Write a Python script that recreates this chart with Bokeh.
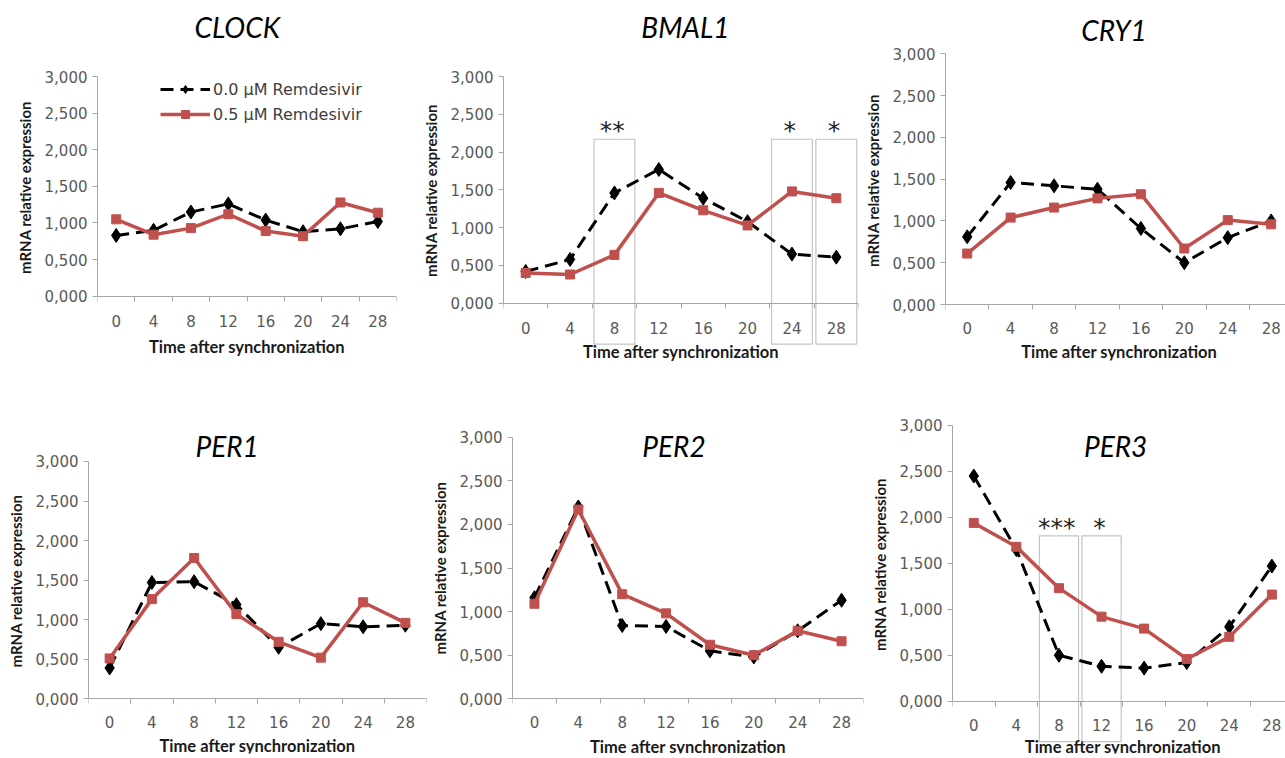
from bokeh.plotting import figure
from bokeh.models import Range1d, FixedTicker, Label, Legend, LegendItem, ColumnDataSource
from bokeh.layouts import row, column
from bokeh.core.properties import value
from bokeh.embed import file_html
from bokeh.resources import INLINE

# ---------------- data ----------------
times = ["0", "4", "8", "12", "16", "20", "24", "28"]
y_ticks = [0.0, 0.5, 1.0, 1.5, 2.0, 2.5, 3.0]
y_tick_labels = ["0,000", "0,500", "1,000", "1,500", "2,000", "2,500", "3,000"]
series_names = ["0.0 µM Remdesivir", "0.5 µM Remdesivir"]
x_title = "Time after synchronization"
y_title = "mRNA relative expression"

clock_ctrl = [0.83, 0.90, 1.15, 1.26, 1.04, 0.88, 0.92, 1.02]
clock_rdv = [1.05, 0.84, 0.93, 1.12, 0.89, 0.82, 1.28, 1.14]
bmal1_ctrl = [0.42, 0.58, 1.46, 1.77, 1.39, 1.08, 0.65, 0.61]
bmal1_rdv = [0.40, 0.38, 0.64, 1.46, 1.23, 1.03, 1.48, 1.39]
cry1_ctrl = [0.81, 1.46, 1.42, 1.38, 0.91, 0.50, 0.80, 1.00]
cry1_rdv = [0.61, 1.04, 1.16, 1.27, 1.32, 0.67, 1.01, 0.96]
per1_ctrl = [0.39, 1.47, 1.48, 1.19, 0.65, 0.95, 0.91, 0.93]
per1_rdv = [0.51, 1.26, 1.78, 1.07, 0.72, 0.52, 1.22, 0.96]
per2_ctrl = [1.16, 2.20, 0.84, 0.83, 0.55, 0.48, 0.78, 1.13]
per2_rdv = [1.09, 2.17, 1.20, 0.98, 0.62, 0.50, 0.78, 0.66]
per3_ctrl = [2.45, 1.65, 0.50, 0.38, 0.36, 0.42, 0.81, 1.47]
per3_rdv = [1.94, 1.68, 1.23, 0.92, 0.79, 0.46, 0.70, 1.16]

bmal1_sig = [("8", "**"), ("24", "*"), ("28", "*")]
per3_sig = [("8", "***"), ("12", "*")]

AXIS_COL = "#A6A6A6"
TICK_COL = "#595959"
RED = "#C0504D"
TICK_FONT = "DejaVu Sans"
TICK_SIZE = "15px"


def panel(gene, ctrl, rdv, W, H, bl, br, bt, bb, xend, yr, tpos, xlab_y,
          sig=None, box_tb=None, star_y=None, legend_loc=None):
    p = figure(width=W, height=H, x_range=Range1d(0, xend), y_range=Range1d(*yr),
               output_backend="svg", toolbar_location=None,
               min_border_left=bl, min_border_right=br,
               min_border_top=bt, min_border_bottom=bb)
    p.outline_line_color = None
    p.grid.visible = False
    p.background_fill_color = "white"
    p.border_fill_color = "white"

    xs = [i + 0.5 for i in range(len(times))]

    # x axis: drawn at y=0, ticks on the category boundaries
    xa = p.xaxis[0]
    xa.fixed_location = 0
    xa.bounds = (0, len(times))
    xa.ticker = FixedTicker(ticks=[], minor_ticks=list(range(len(times) + 1)))
    xa.major_tick_in = 0
    xa.major_tick_out = 5
    xa.minor_tick_line_color = AXIS_COL
    xa.minor_tick_in = 0
    xa.minor_tick_out = 5
    xa.major_label_standoff = 0
    xa.axis_line_color = AXIS_COL

    # category labels and axis title, placed under the axis
    src = ColumnDataSource(dict(x=xs, y=[xlab_y[0]] * len(xs), t=times))
    p.text(x="x", y="y", text="t", source=src, text_align="center",
           text_baseline="middle", text_font=value(TICK_FONT),
           text_font_size=value(TICK_SIZE), text_color=TICK_COL)
    p.add_layout(Label(x=len(times) / 2, y=xlab_y[1], text=x_title,
                       text_align="center", text_baseline="middle",
                       text_font="Lato", text_font_style="bold",
                       text_font_size="16.5px", text_color="#1a1a1a"))

    # y axis
    ya = p.yaxis[0]
    ya.bounds = (0, 3)
    ya.ticker = FixedTicker(ticks=y_ticks, minor_ticks=[])
    ya.major_label_overrides = {v: s for v, s in zip(y_ticks, y_tick_labels)}
    ya.major_tick_line_color = AXIS_COL
    ya.major_tick_in = 0
    ya.major_tick_out = 5
    ya.axis_line_color = AXIS_COL
    ya.major_label_text_font = TICK_FONT
    ya.major_label_text_font_size = TICK_SIZE
    ya.major_label_text_color = TICK_COL
    ya.major_label_standoff = 5
    ya.axis_label = y_title
    ya.axis_label_text_font = "Lato"
    ya.axis_label_text_font_style = "bold"
    ya.axis_label_text_font_size = "15px"
    ya.axis_label_text_color = "#1a1a1a"
    ya.axis_label_standoff = 8

    # significance boxes and stars
    if sig:
        for cat, stars in sig:
            i = times.index(cat)
            p.quad(left=i + 0.04, right=i + 0.96, top=box_tb[0], bottom=box_tb[1],
                   fill_color=None, line_color="#C4C4C4", line_width=1.2)
            p.add_layout(Label(x=i + 0.45, y=star_y, text=stars,
                               text_align="center", text_baseline="alphabetic",
                               text_font="DejaVu Sans", text_font_size="25px",
                               text_color="#262626"))

    r1 = p.line(xs, ctrl, line_color="black", line_width=3, line_dash="13 7")
    s1 = p.scatter(xs, ctrl, marker="diamond", size=14, color="black")
    r2 = p.line(xs, rdv, line_color=RED, line_width=3.5)
    s2 = p.scatter(xs, rdv, marker="square", size=9, color=RED)

    p.add_layout(Label(x=tpos[0], y=tpos[1], text=gene, text_align="center",
                       text_baseline="middle", text_font="Lato",
                       text_font_style="italic", text_font_size="28px",
                       text_color="black"))

    if legend_loc is not None:
        lg = Legend(items=[LegendItem(label=series_names[0], renderers=[r1, s1]),
                           LegendItem(label=series_names[1], renderers=[r2, s2])],
                    location=legend_loc, border_line_color=None,
                    background_fill_alpha=0, padding=0, margin=0, spacing=5,
                    glyph_width=50, glyph_height=20, label_height=20,
                    label_standoff=3, label_text_font="DejaVu Sans",
                    label_text_font_size="16px", label_text_color="#404040")
        p.add_layout(lg)
    return p


# top row (page y 0..375)
f1 = panel("CLOCK", clock_ctrl, clock_rdv, 418, 375, 97, 22, 5, 6, 8,
           (-1.001, 3.970), (3.74, 3.67), (-0.332, -0.700), legend_loc=(63, 245))
f2 = panel("BMAL1", bmal1_ctrl, bmal1_rdv, 442, 375, 80, 2, 11, 6, 8,
           (-0.877, 3.861), (4.10, 3.65), (-0.322, -0.652),
           sig=bmal1_sig, box_tb=(2.17, -0.54), star_y=2.28)
f3 = panel("CRY1", cry1_ctrl, cry1_rdv, 425, 375, 82, 0, 0, 15, 7.83,
           (-0.670, 3.638), (3.88, 3.29), (-0.287, -0.574))
# bottom row (page y 375..758)
f4 = panel("PER1", per1_ctrl, per1_rdv, 427, 383, 88, 1, 33, 5, 8,
           (-0.692, 3.670), (3.28, 3.20), (-0.296, -0.600))
f5 = panel("PER2", per2_ctrl, per2_rdv, 439, 383, 79, 3, 7, 5, 8,
           (-0.627, 3.627), (3.68, 2.90), (-0.268, -0.548))
f6 = panel("PER3", per3_ctrl, per3_rdv, 419, 383, 86, 0, 0, 5, 7.82,
           (-0.569, 3.544), (3.83, 2.78), (-0.264, -0.500),
           sig=per3_sig, box_tb=(1.80, -0.44), star_y=1.885)

layout = column(row(column(f1), column(f2), column(f3)),
                row(column(f4), column(f5), column(f6)))
open("out.html", "w").write(file_html(layout, INLINE))
